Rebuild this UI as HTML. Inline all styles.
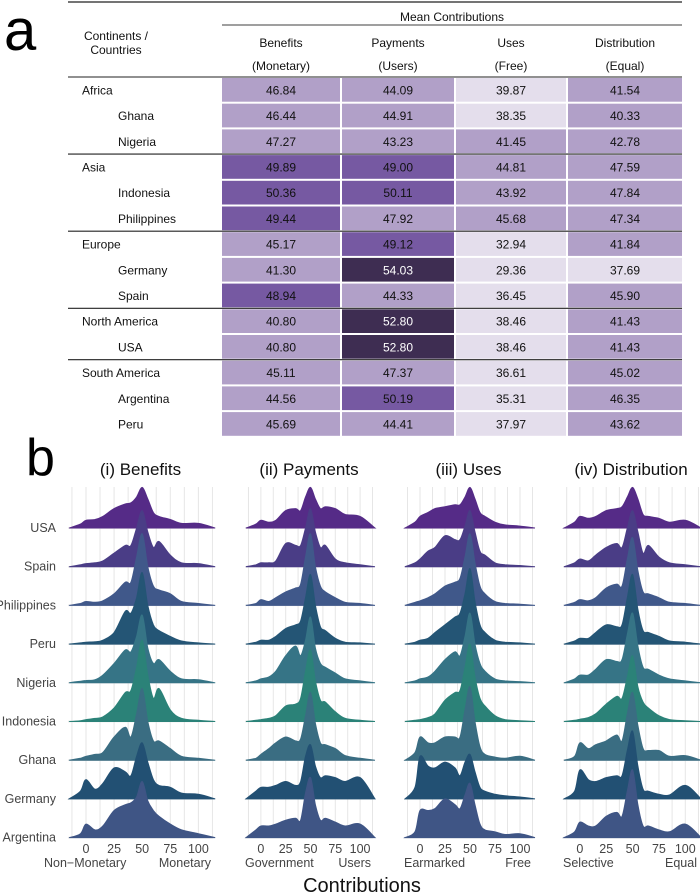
<!DOCTYPE html>
<html><head><meta charset="utf-8">
<style>
body{margin:0;background:#fff;}
svg{display:block;font-family:"Liberation Sans Narrow","Liberation Sans",sans-serif;}
</style></head>
<body>
<svg id="fig" width="700" height="896" viewBox="0 0 700 896">
  <text x="4" y="50" font-size="58" fill="#000" font-family="Liberation Sans, sans-serif">a</text>
  <text x="26" y="475" font-size="52" fill="#000" font-family="Liberation Sans, sans-serif">b</text>
  <g id="table"></g>
  <g id="ridges"></g>
</svg>
<script>
// ---------- Table data ----------
const rowNames = ["Africa","Ghana","Nigeria","Asia","Indonesia","Philippines","Europe","Germany","Spain","North America","USA","South America","Argentina","Peru"];
const rowIsCountry = [0,1,1,0,1,1,0,1,1,0,1,0,1,1];
const colTitles = ["Benefits","Payments","Uses","Distribution"];
const colSubs = ["(Monetary)","(Users)","(Free)","(Equal)"];
const benefitsVals = [46.84,46.44,47.27,49.89,50.36,49.44,45.17,41.30,48.94,40.80,40.80,45.11,44.56,45.69];
const paymentsVals = [44.09,44.91,43.23,49.00,50.11,47.92,49.12,54.03,44.33,52.80,52.80,47.37,50.19,44.41];
const usesVals = [39.87,38.35,41.45,44.81,43.92,45.68,32.94,29.36,36.45,38.46,38.46,36.61,35.31,37.97];
const distVals = [41.54,40.33,42.78,47.59,47.84,47.34,41.84,37.69,45.90,41.43,41.43,45.02,46.35,43.62];

const NS="http://www.w3.org/2000/svg";
function mk(tag,attrs,parent){const e=document.createElementNS(NS,tag);for(const k in attrs)e.setAttribute(k,attrs[k]);parent.appendChild(e);return e;}
const T=document.getElementById('table');
const colX=[[222,340],[342,454],[456,566],[568,682]];
const rowTop=77, rowH=25.7;
function cellColor(v){ if(v<40) return "#e4deec"; if(v<48) return "#b1a0c8"; if(v<52) return "#7659a2"; return "#3e2d52"; }

let ln=mk('line',{x1:68,x2:682,y1:2,y2:2,stroke:'#222','stroke-width':1.2},T);


ln=mk('line',{x1:222,x2:682,y1:25,y2:25,stroke:'#666','stroke-width':1.2},T);


let tx=mk('text',{x:452,y:21,'font-size':12,'text-anchor':'middle',fill:'#111'},T);tx.textContent="Mean Contributions";


tx=mk('text',{x:116,y:40,'font-size':12,'text-anchor':'middle',fill:'#111'},T);tx.textContent="Continents /";


tx=mk('text',{x:116,y:54,'font-size':12,'text-anchor':'middle',fill:'#111'},T);tx.textContent="Countries";


colTitles.forEach((c,i)=>{
  const cx=(colX[i][0]+colX[i][1])/2;
  let t=mk('text',{x:cx,y:47,'font-size':12,'text-anchor':'middle',fill:'#111'},T);t.textContent=c;
  
  
  t=mk('text',{x:cx,y:70,'font-size':12,'text-anchor':'middle',fill:'#111'},T);t.textContent=colSubs[i];
  
  
});
const allCols=[benefitsVals,paymentsVals,usesVals,distVals];
rowNames.forEach((n,r)=>{
  const y=rowTop+r*rowH;
  allCols.forEach((vals,c)=>{
    const rc=mk('rect',{x:colX[c][0],y:y+1,width:colX[c][1]-colX[c][0],height:rowH-2,fill:cellColor(vals[r])},T);
    
    
    const t=mk('text',{x:(colX[c][0]+colX[c][1])/2,y:y+rowH/2+4.5,'font-size':12,'text-anchor':'middle',fill:vals[r]>=52?'#fff':'#111'},T);
    t.textContent=vals[r].toFixed(2);
    
    
  });
  const t=mk('text',{x:rowIsCountry[r]?118:82,y:y+rowH/2+4.5,'font-size':12,fill:'#111'},T);
  t.textContent=n;
  
  
  if(!rowIsCountry[r]){
    const l=mk('line',{x1:68,x2:682,y1:y,y2:y,stroke:'#222','stroke-width':1.1},T);
    
    
  }
});

// ---------- Ridgeline data ----------
const countries = ["USA","Spain","Philippines","Peru","Nigeria","Indonesia","Ghana","Germany","Argentina"];
const countryColors = ["#552b87","#4a3d86","#40588a","#245575","#367486","#2b8278","#3a6d82","#225073","#3f5585"];
const panelTitles = ["(i) Benefits","(ii) Payments","(iii) Uses","(iv) Distribution"];
const leftLabels = ["Non\u2212Monetary","Government","Earmarked","Selective"];
const rightLabels = ["Monetary","Users","Free","Equal"];
const tickVals = [0,25,50,75,100];
const gridX = [-12.5,0,12.5,25,37.5,50,62.5,75,87.5,100,112.5];
const densX = [-15,-5,0,8,15,25,35,40,45,50,55,60,65,75,85,100,115];
const benefitsDens = [
 [0,0.1,0.2,0.22,0.3,0.5,0.62,0.65,0.8,1.05,0.75,0.4,0.3,0.22,0.12,0.12,0],
 [0,0.05,0.08,0.1,0.15,0.35,0.55,0.55,1.0,1.45,0.9,0.5,0.65,0.3,0.1,0.08,0],
 [0,0.05,0.1,0.08,0.12,0.3,0.6,0.6,1.25,1.85,1.0,0.5,0.4,0.3,0.1,0.05,0],
 [0,0.03,0.05,0.06,0.1,0.3,0.85,0.8,1.2,1.85,1.0,0.5,0.35,0.2,0.08,0.03,0],
 [0,0.04,0.06,0.08,0.2,0.5,0.85,0.8,1.2,1.75,0.9,0.5,0.6,0.3,0.1,0.08,0],
 [0,0.02,0.05,0.08,0.12,0.35,0.75,0.8,1.4,2.1,1.2,0.6,0.85,0.3,0.08,0.03,0],
 [0,0.05,0.1,0.15,0.2,0.6,0.85,0.6,1.2,1.85,1.0,0.5,0.5,0.3,0.1,0.05,0],
 [0,0.2,0.5,0.25,0.4,0.8,0.7,0.6,1.1,1.45,0.95,0.5,0.35,0.3,0.15,0.12,0],
 [0,0.1,0.35,0.2,0.3,0.7,0.85,0.9,1.05,1.45,0.95,0.7,0.55,0.35,0.2,0.1,0]];
const paymentsDens = [
 [0,0.1,0.2,0.15,0.2,0.45,0.5,0.45,0.8,1.05,0.75,0.5,0.55,0.5,0.35,0.3,0],
 [0,0.05,0.1,0.1,0.15,0.6,0.55,0.55,1.0,1.5,0.9,0.5,0.55,0.2,0.1,0.05,0],
 [0,0.05,0.15,0.1,0.2,0.35,0.45,0.55,1.25,1.85,1.0,0.5,0.35,0.2,0.08,0.05,0],
 [0,0.05,0.1,0.1,0.2,0.4,0.5,0.6,1.2,1.8,1.0,0.45,0.35,0.15,0.05,0.03,0],
 [0,0.05,0.1,0.15,0.3,0.7,0.95,0.7,1.1,1.7,0.9,0.5,0.4,0.25,0.1,0.05,0],
 [0,0.03,0.05,0.08,0.15,0.4,0.45,0.6,1.3,1.85,1.05,0.55,0.5,0.25,0.08,0.03,0],
 [0,0.05,0.15,0.3,0.45,0.6,0.5,0.55,1.15,1.75,0.95,0.45,0.4,0.3,0.12,0.05,0],
 [0,0.2,0.3,0.3,0.35,0.45,0.35,0.45,1.1,1.4,0.85,0.55,0.6,0.55,0.45,0.55,0],
 [0,0.2,0.3,0.3,0.35,0.45,0.5,0.45,1.15,1.55,0.85,0.45,0.5,0.4,0.3,0.35,0]];
const usesDens = [
 [0,0.15,0.3,0.4,0.5,0.55,0.6,0.6,0.8,1.05,0.75,0.4,0.3,0.15,0.08,0.05,0],
 [0,0.1,0.2,0.4,0.5,0.8,0.7,0.7,1.05,1.45,0.9,0.4,0.3,0.1,0.05,0.03,0],
 [0,0.08,0.12,0.2,0.3,0.5,0.6,0.7,1.25,1.85,1.1,0.5,0.3,0.1,0.05,0.03,0],
 [0,0.05,0.1,0.15,0.3,0.5,0.7,0.8,1.3,1.95,1.1,0.5,0.3,0.1,0.05,0.03,0],
 [0,0.05,0.1,0.15,0.3,0.6,0.8,0.7,1.2,1.8,1.0,0.5,0.3,0.1,0.05,0.03,0],
 [0,0.03,0.05,0.1,0.2,0.55,0.75,0.8,1.4,2.0,1.15,0.6,0.4,0.15,0.05,0.02,0],
 [0,0.2,0.6,0.45,0.45,0.6,0.6,0.6,1.3,1.9,1.0,0.35,0.15,0.08,0.05,0.1,0],
 [0,0.3,1.1,0.85,0.8,0.95,0.8,0.6,0.95,1.15,0.7,0.3,0.2,0.12,0.08,0.05,0],
 [0,0.15,0.7,0.7,0.75,1.0,0.85,0.75,1.1,1.4,0.85,0.35,0.2,0.15,0.08,0.1,0]];
const distributionDens = [
 [0,0.15,0.3,0.25,0.3,0.45,0.5,0.55,0.8,1.05,0.75,0.35,0.3,0.25,0.15,0.2,0],
 [0,0.1,0.2,0.15,0.3,0.5,0.6,0.5,1.0,1.45,0.9,0.35,0.55,0.25,0.1,0.05,0],
 [0,0.08,0.15,0.12,0.2,0.45,0.55,0.5,1.2,1.75,0.9,0.35,0.3,0.2,0.08,0.05,0],
 [0,0.08,0.15,0.15,0.3,0.5,0.45,0.5,1.2,1.8,0.9,0.35,0.3,0.2,0.08,0.05,0],
 [0,0.1,0.2,0.2,0.35,0.6,0.55,0.6,1.25,1.8,0.95,0.4,0.35,0.2,0.1,0.05,0],
 [0,0.03,0.06,0.1,0.2,0.45,0.65,0.6,1.15,1.7,0.9,0.5,0.35,0.15,0.05,0.02,0],
 [0,0.1,0.45,0.3,0.4,0.5,0.65,0.5,1.2,1.75,0.9,0.3,0.25,0.25,0.1,0.12,0],
 [0,0.2,0.75,0.5,0.45,0.55,0.6,0.6,1.25,1.75,0.85,0.25,0.2,0.12,0.1,0.35,0],
 [0,0.15,0.4,0.3,0.3,0.55,0.65,0.55,1.2,1.75,0.85,0.3,0.3,0.2,0.15,0.35,0]];
const allDens=[benefitsDens,paymentsDens,usesDens,distributionDens];

const R=document.getElementById('ridges');
const panelPx=[[68,213],[245,373],[404,533],[563,699]];
const domain=[-16,113];
const base0=528, rowGap=38.7, gridTop=487;
function xScale(p,v){const [a,b]=panelPx[p];return a+(v-domain[0])/(domain[1]-domain[0])*(b-a);}
function yScale(row,h){return base0+row*rowGap-h*rowGap;}
function smoothPath(pts){
  let d=`M${pts[0][0]},${pts[0][1]}`;
  for(let i=0;i<pts.length-1;i++){
    const p0=pts[Math.max(0,i-1)],p1=pts[i],p2=pts[i+1],p3=pts[Math.min(pts.length-1,i+2)];
    const c1=[p1[0]+(p2[0]-p0[0])/6,p1[1]+(p2[1]-p0[1])/6];
    const c2=[p2[0]-(p3[0]-p1[0])/6,p2[1]-(p3[1]-p1[1])/6];
    d+=`C${c1[0].toFixed(1)},${c1[1].toFixed(1)} ${c2[0].toFixed(1)},${c2[1].toFixed(1)} ${p2[0].toFixed(1)},${p2[1].toFixed(1)}`;
  }
  return d;
}
countries.forEach((c,r)=>{
  const t=mk('text',{x:56,y:yScale(r,0)+4,'font-size':12.5,'text-anchor':'end',fill:'#444'},R);
  t.textContent=c;
  
  
});
for(let p=0;p<4;p++){
  const g=mk('g',{},R);
  
  
  const [a,b]=panelPx[p];
  const tt=mk('text',{x:(a+b)/2,y:475,'font-size':17,'text-anchor':'middle',fill:'#111'},g);
  tt.textContent=panelTitles[p];
  
  
  gridX.forEach(v=>{
    const l=mk('line',{x1:xScale(p,v),x2:xScale(p,v),y1:gridTop,y2:yScale(8,0),stroke:'#e6e6e6','stroke-width':1},g);
    
    
  });
  countries.forEach((c,r)=>{
    const bl=mk('line',{x1:a,x2:b,y1:yScale(r,0),y2:yScale(r,0),stroke:'#e3e3e3','stroke-width':1.5},g);
    
    
  });
  countries.forEach((c,r)=>{
    const pts=densX.map((x,i)=>[xScale(p,x),yScale(r,allDens[p][r][i])]);
    const d=smoothPath(pts)+`L${xScale(p,densX[densX.length-1])},${yScale(r,0)}L${xScale(p,densX[0])},${yScale(r,0)}Z`;
    const path=mk('path',{d:d,fill:countryColors[r],stroke:countryColors[r],'stroke-width':1},g);
    
    
  });
  tickVals.forEach(v=>{
    const t=mk('text',{x:xScale(p,v),y:853,'font-size':12.5,'text-anchor':'middle',fill:'#444'},g);
    t.textContent=v;
    
    
  });
  let t=mk('text',{x:p===0?44:a,y:867,'font-size':12.5,fill:'#444'},g);
  t.textContent=leftLabels[p];
  
  
  t=mk('text',{x:b-2,y:867,'font-size':12.5,'text-anchor':'end',fill:'#444'},g);
  t.textContent=rightLabels[p];
  
  
}
const xt=mk('text',{x:362,y:892,'font-size':20,'text-anchor':'middle',fill:'#111'},R);
xt.textContent="Contributions";


</script>
</body></html>
